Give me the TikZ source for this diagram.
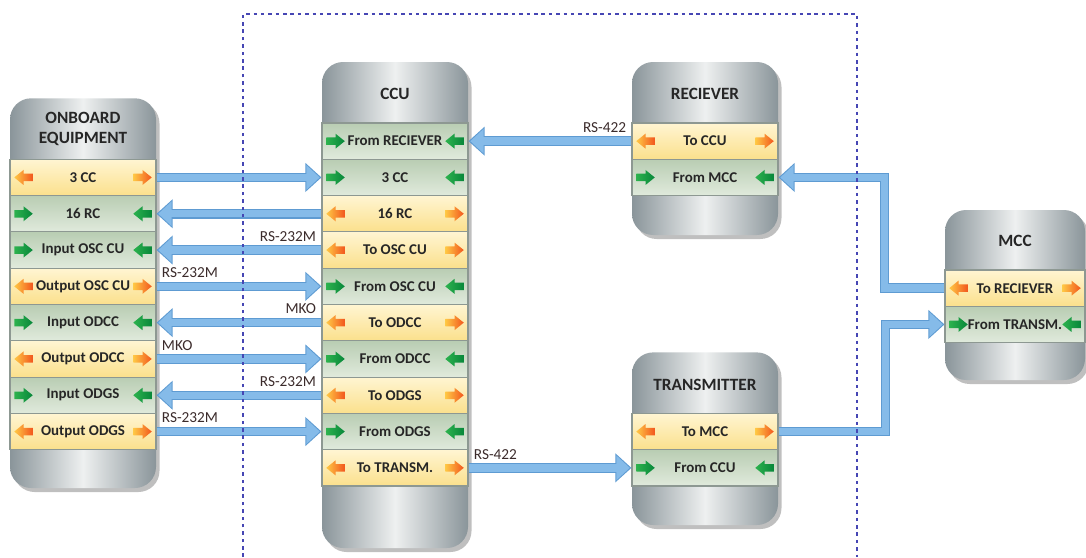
\documentclass[tikz,border=0pt]{standalone}
\usepackage{fontspec}
\setmainfont{Carlito}
\usetikzlibrary{arrows.meta,shadows}

\definecolor{blockmid}{HTML}{EEF0F0}
\definecolor{blockside}{HTML}{8A959A}
\definecolor{greentop}{HTML}{B9CDB3}
\definecolor{greenbot}{HTML}{E0EADC}
\definecolor{yellowtop}{HTML}{FFF5D2}
\definecolor{yellowbot}{HTML}{FBE08C}
\definecolor{rowline}{HTML}{8D9892}
\definecolor{linkfill}{HTML}{85BBE9}
\definecolor{linkedge}{HTML}{5E9BD2}
\definecolor{framecol}{HTML}{4646B4}
\definecolor{labelcol}{HTML}{3B2B2B}
\definecolor{orangehead}{HTML}{F2561D}
\definecolor{orangetail}{HTML}{FFC845}
\definecolor{greenhead}{HTML}{07873A}
\definecolor{greentail}{HTML}{2DB24E}

\begin{document}
\begin{tikzpicture}[
  block/.style={rounded corners=12pt, minimum width=2.92cm, left color=blockside, right color=blockside, middle color=blockmid,
    drop shadow={shadow xshift=0.07cm, shadow yshift=-0.08cm, opacity=0.5}},
  title/.style={font=\fontsize{9.8}{11.5}\selectfont\bfseries, align=center, text=black!85, inner sep=0pt},
  rowbox/.style={draw=rowline, line width=0.6pt, minimum width=2.92cm, minimum height=0.726cm, inner sep=0pt,
    font=\fontsize{8.5}{10}\selectfont\bfseries, text=black!85},
  inrow/.style={rowbox, top color=greentop, bottom color=greenbot, path picture={
      \path ([xshift=0.27cm]path picture bounding box.west) pic {greenarrow};
      \path ([xshift=-0.27cm]path picture bounding box.east) pic[xscale=-1] {greenarrow};}},
  outrow/.style={rowbox, top color=yellowtop, bottom color=yellowbot, path picture={
      \path ([xshift=0.27cm]path picture bounding box.west) pic[xscale=-1] {orangearrow};
      \path ([xshift=-0.27cm]path picture bounding box.east) pic {orangearrow};}},
  greenarrow/.pic={\shade[left color=greentail, right color=greenhead]
      (-0.185,-0.075) -- (0,-0.075) -- (0,-0.15) -- (0.185,0) -- (0,0.15) -- (0,0.075) -- (-0.185,0.075) -- cycle;},
  orangearrow/.pic={\shade[left color=orangetail, right color=orangehead]
      (-0.185,-0.075) -- (0,-0.075) -- (0,-0.15) -- (0.185,0) -- (0,0.15) -- (0,0.075) -- (-0.185,0.075) -- cycle;},
  link/.style={draw=linkfill, line width=4.2pt, shorten >=1pt, shorten <=0pt,
    -{Triangle[length=7.6pt, width=13.6pt]},
    preaction={draw=linkedge, line width=5.4pt, shorten >=0pt, shorten <=0pt, -{Triangle[length=9.2pt, width=16pt]}}},
  linklabel/.style={font=\fontsize{8.7}{10}\selectfont, text=labelcol, inner sep=1pt, yshift=1.8pt},
  frame/.style={draw=framecol, line width=1.4pt, dash pattern=on 2pt off 2.2pt}
]
\useasboundingbox (0,0) rectangle (21.72,-11.14);

% onboard equipment
\node[block, minimum height=7.794cm] (obe) at (1.66,-5.863) {};
\node[title] (obe-t) at (1.66,-2.58) {ONBOARD\\EQUIPMENT};
\node[outrow] (obe-1) at (1.66,-3.549) {3 CC};
\node[inrow]  (obe-2) at (1.66,-4.275) {16 RC};
\node[inrow]  (obe-3) at (1.66,-5.001) {Input OSC CU};
\node[outrow] (obe-4) at (1.66,-5.727) {Output OSC CU};
\node[inrow]  (obe-5) at (1.66,-6.453) {Input ODCC};
\node[outrow] (obe-6) at (1.66,-7.179) {Output ODCC};
\node[inrow]  (obe-7) at (1.66,-7.905) {Input ODGS};
\node[outrow] (obe-8) at (1.66,-8.631) {Output ODGS};

% ccu
\node[block, minimum height=9.72cm] (ccu) at (7.9,-6.1) {};
\node[title] (ccu-t) at (7.9,-1.88) {CCU};
\node[inrow]  (ccu-1) at (7.9,-2.823) {From RECIEVER};
\node[inrow]  (ccu-2) at (7.9,-3.549) {3 CC};
\node[outrow] (ccu-3) at (7.9,-4.275) {16 RC};
\node[outrow] (ccu-4) at (7.9,-5.001) {To OSC CU};
\node[inrow]  (ccu-5) at (7.9,-5.727) {From OSC CU};
\node[outrow] (ccu-6) at (7.9,-6.453) {To ODCC};
\node[inrow]  (ccu-7) at (7.9,-7.179) {From ODCC};
\node[outrow] (ccu-8) at (7.9,-7.905) {To ODGS};
\node[inrow]  (ccu-9) at (7.9,-8.631) {From ODGS};
\node[outrow] (ccu-10) at (7.9,-9.357) {To TRANSM.};

% receiver
\node[block, minimum height=3.46cm] (rec) at (14.1,-2.97) {};
\node[title] (rec-t) at (14.1,-1.88) {RECIEVER};
\node[outrow] (rec-1) at (14.1,-2.823) {To CCU};
\node[inrow]  (rec-2) at (14.1,-3.549) {From MCC};

% transmitter
\node[block, minimum height=3.452cm] (tra) at (14.1,-8.774) {};
\node[title] (tra-t) at (14.1,-7.69) {TRANSMITTER};
\node[outrow] (tra-1) at (14.1,-8.631) {To MCC};
\node[inrow]  (tra-2) at (14.1,-9.357) {From CCU};

% mcc
\node[block, minimum width=2.8cm, minimum height=3.4cm] (mcc) at (20.3,-5.9) {};
\node[title] (mcc-t) at (20.3,-4.82) {MCC};
\node[outrow, minimum width=2.8cm] (mcc-1) at (20.3,-5.763) {To RECIEVER};
\node[inrow, minimum width=2.8cm]  (mcc-2) at (20.3,-6.489) {From TRANSM.};

% links
\draw[link] (obe-1.east) -- (ccu-2.west);
\draw[link] (ccu-3.west) -- (obe-2.east);
\draw[link] (ccu-4.west) -- node[linklabel, at start, above left] {RS-232M} (obe-3.east);
\draw[link] (obe-4.east) -- node[linklabel, at start, above right] {RS-232M} (ccu-5.west);
\draw[link] (ccu-6.west) -- node[linklabel, at start, above left] {MKO} (obe-5.east);
\draw[link] (obe-6.east) -- node[linklabel, at start, above right] {MKO} (ccu-7.west);
\draw[link] (ccu-8.west) -- node[linklabel, at start, above left] {RS-232M} (obe-7.east);
\draw[link] (obe-8.east) -- node[linklabel, at start, above right] {RS-232M} (ccu-9.west);
\draw[link] (rec-1.west) -- node[linklabel, at start, above left] {RS-422} (ccu-1.east);
\draw[link] (ccu-10.east) -- node[linklabel, at start, above right] {RS-422} (tra-2.west);
\draw[link] (mcc-1.west) -- ++(-1.2,0) |- (rec-2.east);
\draw[link] (tra-1.east) -- ++(2.14,0) |- (mcc-2.west);

% ccu, receiver and transmitter frame
\draw[frame] (4.86,-11.14) -- (4.86,-0.28) -- (17.14,-0.28) -- (17.14,-11.14);
\end{tikzpicture}
\end{document}
